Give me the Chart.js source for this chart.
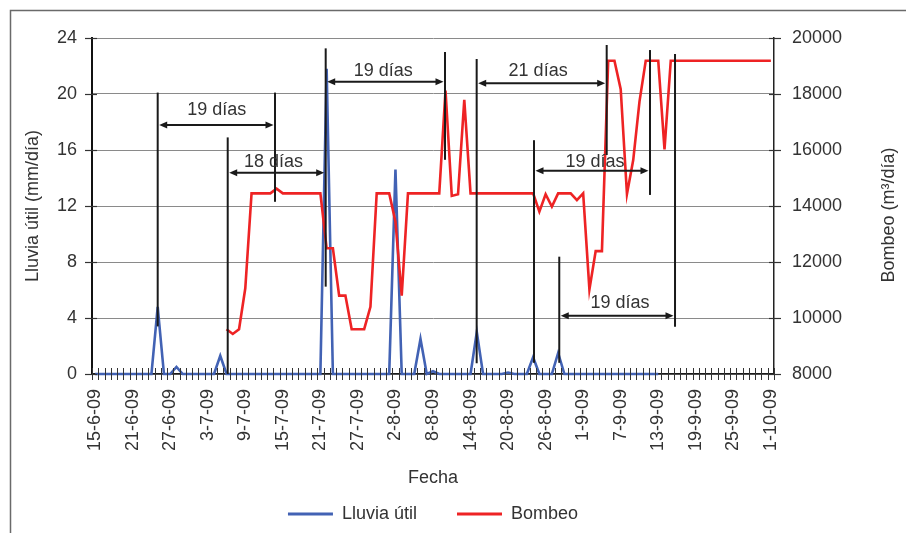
<!DOCTYPE html>
<html><head><meta charset="utf-8">
<script src="https://cdn.jsdelivr.net/npm/chart.js@4.4.1/dist/chart.umd.min.js"></script>
<style>html,body{margin:0;padding:0;background:#fff;}canvas{display:block;}</style>
</head><body>
<canvas id="c" width="906" height="533"></canvas>
<script>
// ---- categories (one per day) ----
const fechas = [
 '15-6-09','16-6-09','17-6-09','18-6-09','19-6-09','20-6-09','21-6-09','22-6-09','23-6-09','24-6-09','25-6-09','26-6-09','27-6-09','28-6-09','29-6-09','30-6-09',
 '1-7-09','2-7-09','3-7-09','4-7-09','5-7-09','6-7-09','7-7-09','8-7-09','9-7-09','10-7-09','11-7-09','12-7-09','13-7-09','14-7-09','15-7-09','16-7-09','17-7-09','18-7-09','19-7-09','20-7-09','21-7-09','22-7-09','23-7-09','24-7-09','25-7-09','26-7-09','27-7-09','28-7-09','29-7-09','30-7-09','31-7-09',
 '1-8-09','2-8-09','3-8-09','4-8-09','5-8-09','6-8-09','7-8-09','8-8-09','9-8-09','10-8-09','11-8-09','12-8-09','13-8-09','14-8-09','15-8-09','16-8-09','17-8-09','18-8-09','19-8-09','20-8-09','21-8-09','22-8-09','23-8-09','24-8-09','25-8-09','26-8-09','27-8-09','28-8-09','29-8-09','30-8-09','31-8-09',
 '1-9-09','2-9-09','3-9-09','4-9-09','5-9-09','6-9-09','7-9-09','8-9-09','9-9-09','10-9-09','11-9-09','12-9-09','13-9-09','14-9-09','15-9-09','16-9-09','17-9-09','18-9-09','19-9-09','20-9-09','21-9-09','22-9-09','23-9-09','24-9-09','25-9-09','26-9-09','27-9-09','28-9-09','29-9-09','30-9-09',
 '1-10-09'
];

// ---- series: Lluvia útil (mm/día) ----
const lluviaUtil = [
 0,0,0,0,0,0,0,0,0,0,4.8,0,0,0.5,0,0,
 0,0,0,0,1.3,0,0,0,0,0,0,0,0,0,0,0,0,0,0,0,0,21.8,0,0,0,0,0,0,0,0,0,
 0,14.6,0,0,0,2.5,0,0.2,0,0,0,0,0,0,3.0,0,0,0,0,0.1,0,0,0,1.2,0,0,0,1.5,0,0,0,
 0,0,0,0,0,0,0,0,0,0,0,0,0,null,null,null,null,null,null,null,null,null,null,null,null,null,null,null,null,null,
 null
];

// ---- series: Bombeo (m3/día) ----
const bombeo = [
 null,null,null,null,null,null,null,null,null,null,null,null,null,null,null,null,
 null,null,null,null,null,9600,9430,9600,11060,14450,14450,14450,14450,14620,14450,14450,14450,14450,14450,14450,14450,12490,12490,10800,10800,9600,9600,9600,10400,14450,14450,
 14450,13440,10800,14450,14450,14450,14450,14450,14450,18120,14360,14420,17790,14450,14450,14450,14450,14450,14450,14450,14450,14450,14450,14450,13800,14420,13980,14450,14450,14450,14210,
 14450,11020,12390,12390,19190,19190,18170,14430,15640,17730,19190,19190,19190,16020,19190,19190,19190,19190,19190,19190,19190,19190,19190,19190,19190,19190,19190,19190,19190,19190,
 19190
];

// ---- axis ticks ----
const lluviaTicks = [0, 4, 8, 12, 16, 20, 24];
const bombeoTicks = [8000, 10000, 12000, 14000, 16000, 18000, 20000];
const labelEvery = 6;

// ---- annotations (day index, left-axis mm values) ----
const markerDay    = [10, 28.75, 21.19, 36.85, 55.92, 60.98, 70.14, 74.18, 81.76, 88.68, 92.68];
const markerTop    = [20.1, 20.1, 16.9, 23.26, 23.0, 22.5, 16.7, 8.38, 23.5, 23.14, 22.86];
const markerBottom = [3.4, 12.3, 0, 6.24, 15.3, 0.76, 0.8, 0.8, 15.64, 12.79, 3.38];

const intervalFrom  = [10, 21.19, 36.85, 60.98, 70.14, 74.18];
const intervalTo    = [28.75, 36.85, 55.92, 81.76, 88.68, 92.68];
const intervalLevel = [17.79, 14.38, 20.88, 20.76, 14.52, 4.16];
const intervalText  = ['19 días', '18 días', '19 días', '21 días', '19 días', '19 días'];
const intervalTextDay   = [19.43, 28.5, 46.05, 70.8, 79.9, 83.9];
const intervalTextLevel = [18.86, 15.16, 21.66, 21.64, 15.16, 5.09];

Chart.defaults.font.family = "'Liberation Sans', Arial, sans-serif";
Chart.defaults.font.size = 18;
Chart.defaults.color = '#333';

const TEXT = '#333';

const decor = {
  id: 'decor',
  afterDatasetsDraw(chart) {
    const {ctx, chartArea: ca, scales: {x, y, y1}} = chart;
    ctx.save();
    // outer frame
    ctx.strokeStyle = '#6a6a6a'; ctx.lineWidth = 1.5;
    ctx.beginPath(); ctx.moveTo(10.5, 533); ctx.lineTo(10.5, 10.5); ctx.lineTo(906, 10.5); ctx.stroke();

    // crossing tick marks
    ctx.strokeStyle = '#333'; ctx.lineWidth = 1;
    for (let i = 0; i <= fechas.length; i++) {
      const px = Math.round(x.getPixelForValue(i - 0.5)) + 0.5;
      ctx.beginPath(); ctx.moveTo(px, ca.bottom - 6); ctx.lineTo(px, ca.bottom + 6); ctx.stroke();
    }
    ctx.lineWidth = 1.2;
    lluviaTicks.forEach(v => {
      const py = Math.round(y.getPixelForValue(v)) + 0.5;
      ctx.beginPath(); ctx.moveTo(ca.left - 7, py); ctx.lineTo(ca.left + 5, py); ctx.stroke();
    });
    bombeoTicks.forEach(v => {
      const py = Math.round(y1.getPixelForValue(v)) + 0.5;
      ctx.beginPath(); ctx.moveTo(ca.right - 5, py); ctx.lineTo(ca.right + 7, py); ctx.stroke();
    });

    // vertical marker lines
    ctx.strokeStyle = '#1a1a1a'; ctx.lineWidth = 2;
    markerDay.forEach((d, i) => {
      const px = x.getPixelForValue(d);
      ctx.beginPath();
      ctx.moveTo(px, y.getPixelForValue(markerTop[i]));
      ctx.lineTo(px, y.getPixelForValue(markerBottom[i]));
      ctx.stroke();
    });

    // double arrows + labels
    ctx.fillStyle = '#1a1a1a';
    intervalFrom.forEach((f, i) => {
      const x1 = x.getPixelForValue(f) + 1.5, x2 = x.getPixelForValue(intervalTo[i]) - 1.5;
      const py = y.getPixelForValue(intervalLevel[i]);
      ctx.beginPath(); ctx.moveTo(x1 + 4, py); ctx.lineTo(x2 - 4, py); ctx.stroke();
      ctx.beginPath(); ctx.moveTo(x1, py); ctx.lineTo(x1 + 8, py - 3.5); ctx.lineTo(x1 + 8, py + 3.5); ctx.closePath(); ctx.fill();
      ctx.beginPath(); ctx.moveTo(x2, py); ctx.lineTo(x2 - 8, py - 3.5); ctx.lineTo(x2 - 8, py + 3.5); ctx.closePath(); ctx.fill();
    });
    ctx.fillStyle = TEXT;
    ctx.font = "18px 'Liberation Sans', Arial, sans-serif";
    ctx.textAlign = 'center'; ctx.textBaseline = 'middle';
    intervalText.forEach((t, i) => {
      ctx.fillText(t, x.getPixelForValue(intervalTextDay[i]), y.getPixelForValue(intervalTextLevel[i]));
    });

    // right axis title (reads bottom to top)
    ctx.translate(889, 215);
    ctx.rotate(-Math.PI / 2);
    ctx.fillText('Bombeo (m³/día)', 0, 0);
    ctx.restore();
  }
};

new Chart(document.getElementById('c'), {
  type: 'line',
  data: {
    labels: fechas,
    datasets: [
      { label: 'Lluvia útil', data: lluviaUtil, yAxisID: 'y', borderColor: '#4262b4', backgroundColor: '#4262b4',
        borderWidth: 2.6, pointRadius: 0, tension: 0, spanGaps: false, clip: false, order: 1 },
      { label: 'Bombeo', data: bombeo, yAxisID: 'y1', borderColor: '#ee2324', backgroundColor: '#ee2324',
        borderWidth: 2.6, pointRadius: 0, tension: 0, spanGaps: false, clip: false, order: 0 }
    ]
  },
  options: {
    responsive: false,
    animation: false,
    devicePixelRatio: 1,
    layout: { padding: { top: 38, left: 0, right: 0, bottom: 0 } },
    plugins: {
      tooltip: { enabled: false },
      legend: {
        position: 'bottom',
        fullSize: false,
        labels: {
          boxWidth: 45, boxHeight: 3, padding: 40, color: TEXT, font: { size: 18 },
          sort: (a, b) => a.datasetIndex - b.datasetIndex,
          generateLabels(chart) {
            return Chart.defaults.plugins.legend.labels.generateLabels(chart).map(it => {
              it.fillStyle = it.strokeStyle; it.lineWidth = 0; return it;
            });
          }
        }
      }
    },
    scales: {
      x: {
        type: 'category',
        offset: true,
        grid: { display: true, drawOnChartArea: false, drawTicks: false },
        border: { display: true, color: '#1a1a1a', width: 1.5 },
        ticks: {
          autoSkip: false, minRotation: 90, maxRotation: 90, padding: 15, color: TEXT, font: { size: 18 },
          callback(v, i) { return i % labelEvery === 0 ? fechas[i] : ''; }
        },
        title: { display: true, text: 'Fecha', color: TEXT, font: { size: 18 }, padding: { top: 0, bottom: -24 } },
        afterFit(s) { s.height = 91; }
      },
      y: {
        position: 'left', min: 0, max: 24,
        afterBuildTicks(s) { s.ticks = lluviaTicks.map(v => ({ value: v })); },
        grid: { color: '#8a8a8a', lineWidth: 1, drawTicks: false },
        border: { display: true, color: '#111', width: 2 },
        ticks: { padding: 15, color: TEXT, font: { size: 18 }, callback: v => String(v) },
        title: { display: true, text: 'Lluvia útil (mm/día)', color: TEXT, font: { size: 18 }, padding: { top: 22, bottom: 0 } },
        afterFit(s) { s.width = 92; }
      },
      y1: {
        position: 'right', min: 8000, max: 20000,
        afterBuildTicks(s) { s.ticks = bombeoTicks.map(v => ({ value: v })); },
        grid: { drawOnChartArea: false, drawTicks: false },
        border: { display: true, color: '#222', width: 1.5 },
        ticks: { padding: 18, color: TEXT, font: { size: 18 }, callback: v => String(v) },
        afterFit(s) { s.width = 132; }
      }
    }
  },
  plugins: [decor]
});
</script>
</body></html>
